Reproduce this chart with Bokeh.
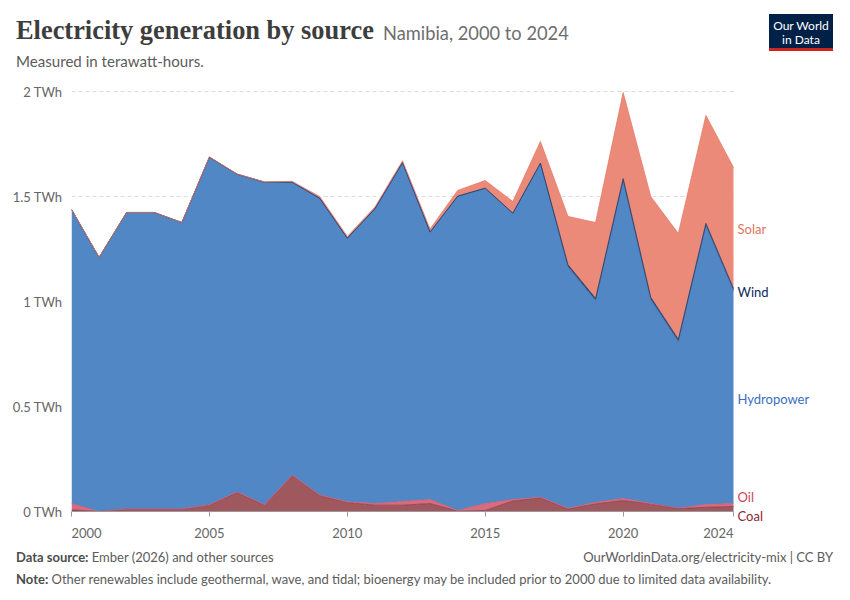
from bokeh.plotting import figure
from bokeh.models import ColumnDataSource, Range1d, FixedTicker, Div
from bokeh.layouts import column
from bokeh.core.properties import value
from bokeh.embed import file_html
from bokeh.resources import INLINE

years = list(range(2000, 2025))
coal = [0.008, 0.0, 0.01, 0.01, 0.01, 0.03, 0.09, 0.03, 0.17, 0.076, 0.043, 0.03, 0.03, 0.038, 0.002,
        0.005, 0.05, 0.065, 0.012, 0.036, 0.052, 0.035, 0.014, 0.02, 0.024]
oil = [0.03, 0.0, 0.002, 0.002, 0.002, 0.002, 0.003, 0.002, 0.003, 0.003, 0.003, 0.008, 0.018, 0.019, 0.003,
       0.033, 0.007, 0.003, 0.003, 0.007, 0.01, 0.003, 0.002, 0.013, 0.014]
hydro = [1.40, 1.21, 1.412, 1.412, 1.364, 1.654, 1.512, 1.535, 1.394, 1.411, 1.254, 1.402, 1.612, 1.272, 1.495,
         1.50, 1.362, 1.589, 1.15, 0.962, 1.513, 0.972, 0.794, 1.329, 1.014]
wind = [0.0, 0.0, 0.0, 0.0, 0.0, 0.002, 0.002, 0.002, 0.002, 0.002, 0.002, 0.002, 0.002, 0.002, 0.002,
        0.002, 0.002, 0.002, 0.01, 0.01, 0.01, 0.01, 0.01, 0.01, 0.01]
solar = [0.0, 0.0, 0.0, 0.0, 0.0, 0.0, 0.0, 0.0, 0.003, 0.008, 0.008, 0.008, 0.008, 0.014, 0.027,
         0.036, 0.055, 0.103, 0.23, 0.361, 0.41, 0.48, 0.504, 0.514, 0.576]

series = ["coal", "oil", "hydro", "wind", "solar"]
names = ["Coal", "Oil", "Hydropower", "Wind", "Solar"]
fills = ["#a0585f", "#d76c80", "#5287c6", "#2a4a7a", "#ec8a79"]
strokes = ["#8a3a44", "#d05a70", "#44679a", "#1f3a66", "#e67a68"]
label_colors = ["#8c2a37", "#c9455e", "#3a6fbf", "#0b2b5c", "#e0745f"]
label_dy = [7.5, -7.5, 2, 2, 1]
yticks = [0, 0.5, 1, 1.5, 2]
grid_ticks = [0.5, 1, 1.5, 2]
ytick_labels = {0: "0 TWh", 0.5: "0.5 TWh", 1: "1 TWh", 1.5: "1.5 TWh", 2: "2 TWh"}
xticks = [2000, 2005, 2010, 2015, 2020, 2024]
FS = "\u2007"
xtick_labels = {2000: FS * 4 + "2000", 2024: "2024" + FS * 4}

TITLE = "Electricity generation by source"
SUBTITLE_ENTITY = "Namibia, 2000 to 2024"
SUBTITLE = "Measured in terawatt-hours."
SOURCE_B = "Data source:"
SOURCE_T = "Ember (2026) and other sources"
URL = "OurWorldinData.org/electricity-mix | CC BY"
NOTE_B = "Note:"
NOTE_T = ("Other renewables include geothermal, wave, and tidal; bioenergy may be included "
          "prior to 2000 due to limited data availability.")

W = 834
GRAY = "#5b5b5b"

# ---------- header ----------
HH = 65
head_html = f"""
<div style="position:relative;width:{W}px;height:{HH}px;overflow:hidden;font-family:Lato,sans-serif;">
  <span style="position:absolute;left:11px;top:12px;line-height:1;white-space:nowrap;
        font-family:'Liberation Serif',serif;font-weight:bold;font-size:26.4px;color:#3d3d3d;">{TITLE}</span>
  <span style="position:absolute;left:378px;top:18.8px;line-height:1;white-space:nowrap;
        font-size:18.3px;color:#6e6e6e;">{SUBTITLE_ENTITY}</span>
  <span style="position:absolute;left:11px;top:48.5px;line-height:1;white-space:nowrap;
        font-size:15.1px;color:{GRAY};">{SUBTITLE}</span>
  <div style="position:absolute;left:764px;top:9px;width:64px;height:37px;box-sizing:border-box;
        background:#002147;border-bottom:3px solid #ce261e;color:white;font-size:12px;
        line-height:14px;text-align:center;">
    <div style="padding-top:4.5px;">Our World<br>in Data</div>
  </div>
</div>
"""
head = Div(text=head_html, width=W, height=HH)

# ---------- main chart ----------
source = ColumnDataSource(dict(year=years, coal=coal, oil=oil, hydro=hydro, wind=wind, solar=solar))
MH = 470
PX_PER_TWH = 210
px_per_year = 662 / 24
p = figure(width=W, height=MH, output_backend="svg", toolbar_location=None,
           x_range=Range1d(2000, 2024 + (830 - 733) / px_per_year),
           y_range=Range1d(-12 / PX_PER_TWH, 2 + 2 / PX_PER_TWH),
           min_border_left=71, min_border_right=4, min_border_top=14, min_border_bottom=22)
p.outline_line_color = None
p.xgrid.visible = False
p.ygrid.visible = False

gsrc = ColumnDataSource(dict(y=grid_ticks, x0=[years[0]] * len(grid_ticks), x1=[years[-1]] * len(grid_ticks)))
p.segment(x0="x0", x1="x1", y0="y", y1="y", source=gsrc, line_color="#dddddd",
          line_dash="4 3", line_width=1, level="underlay")

p.varea_stack(series, x="year", source=source, color=fills)
p.vline_stack(series, x="year", source=source, color=strokes, line_width=0.8)

# baseline at 0 TWh
p.segment(x0=[years[0]], x1=[years[-1]], y0=[0], y1=[0], line_color="#999999", line_width=1)

p.yaxis.ticker = FixedTicker(ticks=yticks)
p.yaxis.major_label_overrides = ytick_labels
p.yaxis.axis_line_color = None
p.yaxis.major_tick_line_color = None
p.yaxis.major_tick_out = 0
p.yaxis.major_tick_in = 0
p.yaxis.minor_tick_line_color = None
p.yaxis.major_label_text_font = "Lato"
p.yaxis.major_label_text_font_size = "13px"
p.yaxis.major_label_text_color = "#666666"
p.yaxis.major_label_standoff = 9

p.xaxis.ticker = FixedTicker(ticks=xticks)
p.xaxis.major_label_overrides = xtick_labels
p.xaxis.bounds = (2000, 2024)
p.xaxis.axis_line_color = None
p.xaxis.major_tick_line_color = "#999999"
p.xaxis.major_tick_in = 12
p.xaxis.major_tick_out = -7
p.xaxis.minor_tick_line_color = None
p.xaxis.major_label_text_font = "Lato"
p.xaxis.major_label_text_font_size = "13px"
p.xaxis.major_label_text_color = "#666666"
p.xaxis.major_label_standoff = 1

# right-side series labels anchored on the last values
cum = 0.0
lx, ly = [], []
for s in series:
    v = source.data[s][-1]
    lx.append(years[-1])
    ly.append(cum + v / 2.0)
    cum += v
lsrc = ColumnDataSource(dict(x=lx, y=ly, text=names, color=label_colors, dy=label_dy))
p.text(x="x", y="y", text="text", source=lsrc, text_color="color", x_offset=4, y_offset="dy",
       text_font=value("Lato"), text_font_size="13px", text_baseline="middle", text_align="left")

# ---------- footer ----------
FH = 49
foot_html = f"""
<div style="position:relative;width:{W}px;height:{FH}px;overflow:hidden;font-family:Lato,sans-serif;
     font-size:13px;color:{GRAY};">
  <span style="position:absolute;left:11px;top:1px;line-height:1;white-space:nowrap;">
    <b style="color:#4d4d4d;">{SOURCE_B}</b> {SOURCE_T}</span>
  <span style="position:absolute;right:6px;top:1px;line-height:1;white-space:nowrap;">{URL}</span>
  <span style="position:absolute;left:11px;top:23px;line-height:1;white-space:nowrap;">
    <b style="color:#4d4d4d;">{NOTE_B}</b> {NOTE_T}</span>
</div>
"""
foot = Div(text=foot_html, width=W, height=FH)

layout = column(head, p, foot, spacing=0)
open("out.html", "w").write(file_html(layout, INLINE))
